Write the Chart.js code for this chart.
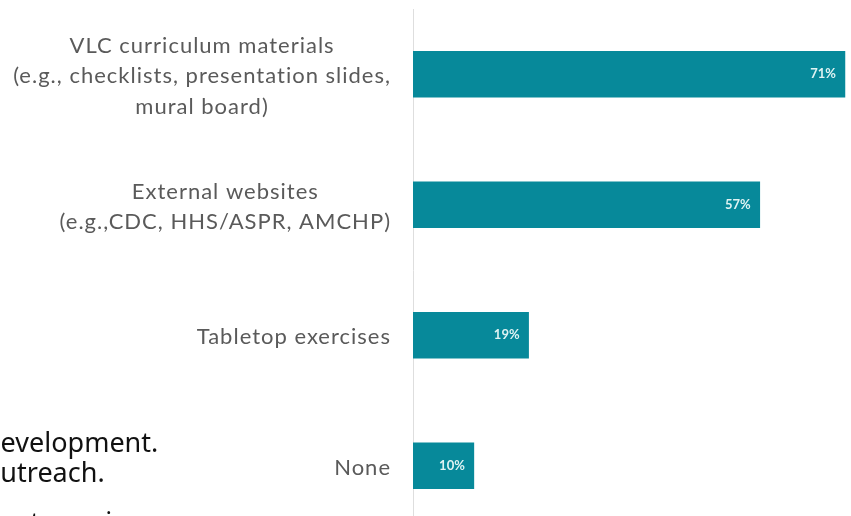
<!DOCTYPE html>
<html lang="en">
<head>
    <meta charset="UTF-8">
    <title>Resources used</title>
    <script src="https://cdn.jsdelivr.net/npm/chart.js"></script>
    <style>
        html, body { margin: 0; padding: 0; background: #fff; overflow: hidden; }
        body { width: 851px; height: 516px; position: relative; }
        .chart-box { position: absolute; left: 0; top: 0; width: 851px; height: 531px; }
        .slide-text {
            position: absolute; left: -16px;
            font-family: "Noto Sans", sans-serif; font-size: 27px; line-height: 30px;
            color: #111; white-space: nowrap;
        }
    </style>
</head>
<body>
    <div class="chart-box"><canvas id="resource-chart"></canvas></div>
    <div class="slide-text" style="top: 427px;">development.<br>outreach.</div>
    <div class="slide-text" style="top: 507px; left: -60px;">support nominees.</div>

    <script>
        const categories = [
            ['VLC curriculum materials', '(e.g., checklists, presentation slides,', 'mural board)'],
            ['External websites', '(e.g.,CDC, HHS/ASPR, AMCHP)'],
            ['Tabletop exercises'],
            ['None']
        ];
        const percentValues = [71, 57, 19, 10];
        const barColor = '#07899a';

        // left labels: each line centred, block right-aligned to the axis
        const labelPlugin = {
            id: 'blockLabels',
            afterDraw(chart) {
                const ctx = chart.ctx;
                const yScale = chart.scales.y;
                const right = yScale.right - 22;
                const lineH = 30.5;
                ctx.save();
                ctx.font = '22px Lato, sans-serif';
                ctx.letterSpacing = '1px';
                ctx.fillStyle = '#5a5a5a';
                ctx.textAlign = 'center';
                ctx.textBaseline = 'middle';
                categories.forEach((lines, i) => {
                    const cy = yScale.getPixelForValue(i) + 2;
                    const maxW = Math.max(...lines.map(l => ctx.measureText(l).width));
                    const cx = right - maxW / 2;
                    lines.forEach((line, j) => {
                        ctx.fillText(line, cx, cy + (j - (lines.length - 1) / 2) * lineH);
                    });
                });
                ctx.restore();
            }
        };

        // value text inside the bars
        const valuePlugin = {
            id: 'valueLabels',
            afterDatasetsDraw(chart) {
                const ctx = chart.ctx;
                const meta = chart.getDatasetMeta(0);
                ctx.save();
                ctx.font = 'bold 13px Lato, sans-serif';
                ctx.fillStyle = '#dff3f3';
                ctx.textAlign = 'right';
                ctx.textBaseline = 'middle';
                meta.data.forEach((bar, i) => {
                    ctx.fillText(percentValues[i] + '%', bar.x - 9, bar.y);
                });
                ctx.restore();
            }
        };

        new Chart(document.getElementById('resource-chart'), {
            type: 'bar',
            data: {
                labels: categories,
                datasets: [{
                    data: percentValues,
                    backgroundColor: barColor,
                    borderWidth: 0,
                    barThickness: 46
                }]
            },
            options: {
                indexAxis: 'y',
                responsive: true,
                maintainAspectRatio: false,
                animation: false,
                layout: { padding: { top: 9, right: 0, bottom: 0, left: 0 } },
                scales: {
                    x: { display: false, min: 0, max: 72 },
                    y: {
                        grid: { display: false },
                        border: { display: true, color: '#dedede', width: 1 },
                        ticks: { display: false },
                        afterFit(scale) { scale.width = 413; }
                    }
                },
                plugins: {
                    legend: { display: false },
                    tooltip: { enabled: false }
                }
            },
            plugins: [labelPlugin, valuePlugin]
        });
    </script>
</body>
</html>
